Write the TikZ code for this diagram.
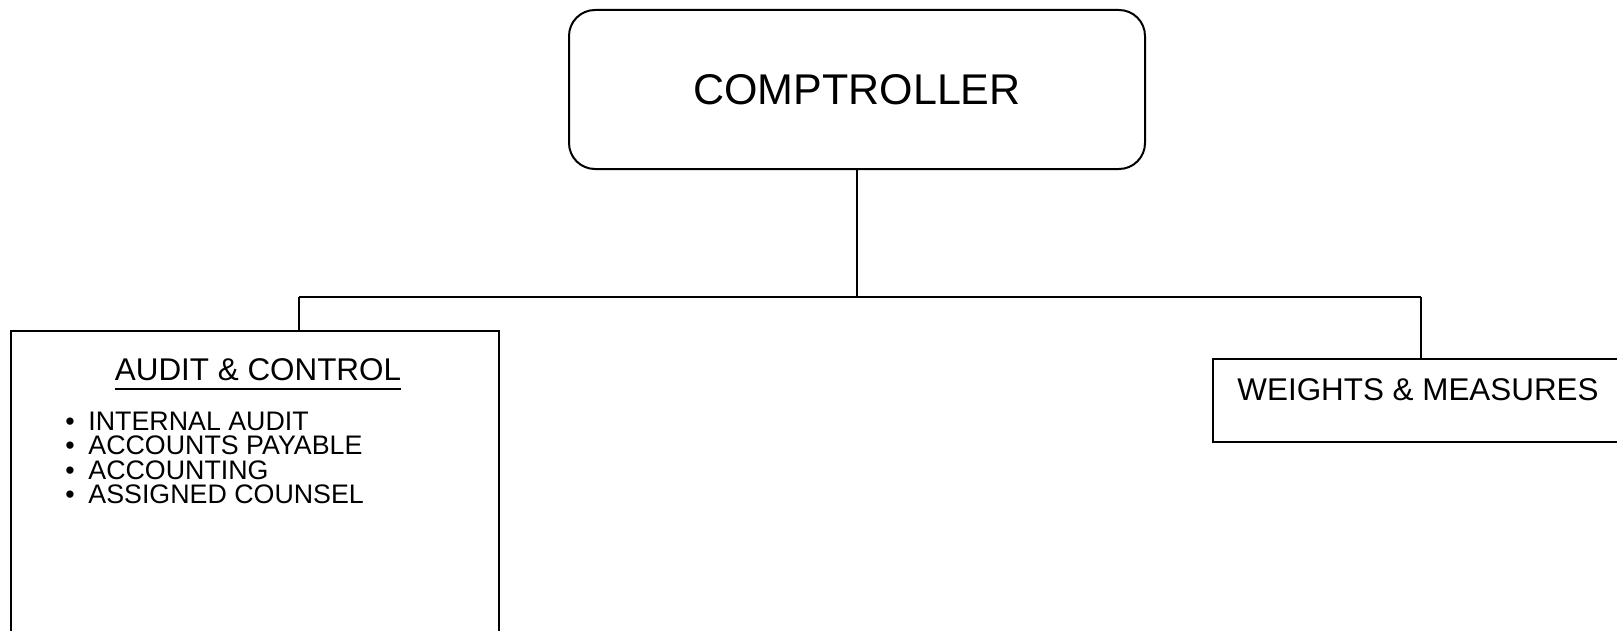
\documentclass[tikz,border=0pt]{standalone}
\usepackage{fontspec}
\setmainfont{Liberation Sans}
\newcommand\itm[1]{\makebox[11.5pt][l]{•}#1}
\begin{document}
\begin{tikzpicture}[x=0.5pt,y=-0.5pt,
  box/.style={draw, line width=1pt, inner sep=0pt},
  conn/.style={draw, line width=1pt},
  head/.style={anchor=base, inner sep=0pt, font=\fontsize{15.7}{18}\selectfont},
  itemtext/.style={anchor=base west, inner sep=0pt, font=\fontsize{13.4}{16}\selectfont}]
\useasboundingbox (0,0) rectangle (1617,631);
\clip (0,0) rectangle (1617,631);
% boxes
\node[box, rounded corners=13pt, minimum width=288pt, minimum height=79.5pt,
      font=\fontsize{21.5}{26}\selectfont] (comp) at (857,89.5) {COMPTROLLER};
\node[box, minimum width=244pt, minimum height=200pt, anchor=north west] (audit) at (10,330) {};
\node[box, minimum width=250pt, minimum height=41.5pt, anchor=north west] (wm) at (1212,358) {};
% texts
\node[head] (hd) at (258,380) {AUDIT \& CONTROL};
\draw[line width=0.9pt] ([yshift=-4.5pt]hd.base west) -- ([yshift=-4.5pt]hd.base east);
\node[head] (wmt) at (1418,400) {WEIGHTS \& MEASURES};
\node[itemtext] (i1) at (65,430) {\itm{INTERNAL AUDIT}};
\node[itemtext] (i2) at (65,454.5) {\itm{ACCOUNTS PAYABLE}};
\node[itemtext] (i3) at (65,479) {\itm{ACCOUNTING}};
\node[itemtext] (i4) at (65,503.5) {\itm{ASSIGNED COUNSEL}};
% connectors
\coordinate (busL) at (299,297);
\coordinate (busR) at (1421,297);
\draw[conn] (comp.south) -- (comp.south |- busL);
\draw[conn] (busL) -- (busR);
\draw[conn] (busL) -- (busL |- audit.north);
\draw[conn] (busR) -- (busR |- wm.north);
\end{tikzpicture}
\end{document}
